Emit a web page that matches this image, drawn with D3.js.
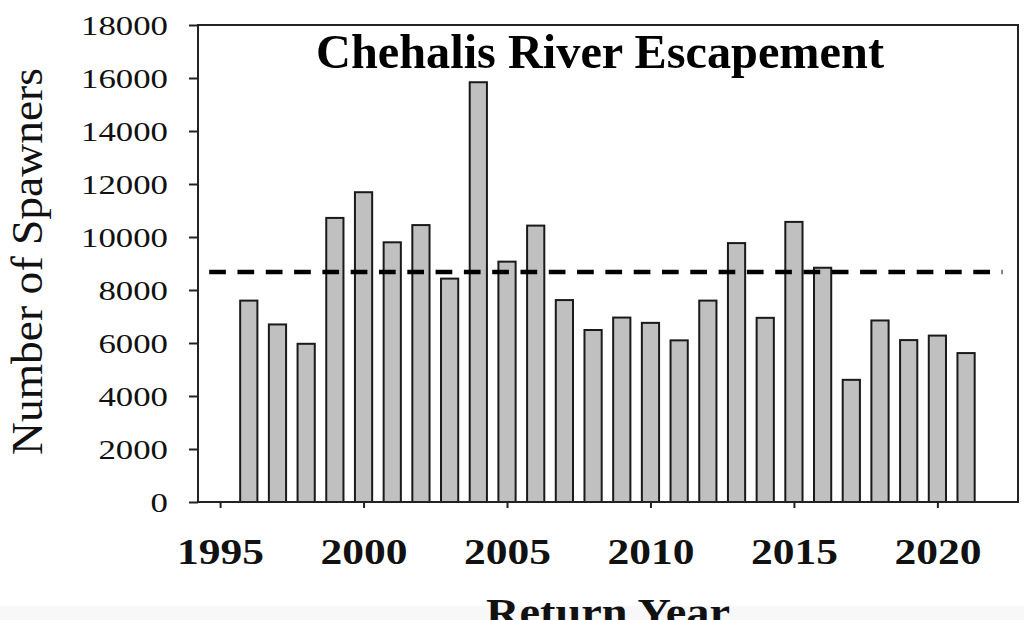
<!DOCTYPE html>
<html><head><meta charset="utf-8">
<script src="https://cdn.jsdelivr.net/npm/d3@7/dist/d3.min.js"></script>
<style>html,body{margin:0;padding:0;background:#fff;}svg{display:block;}</style>
</head><body>
<svg id="chart" width="1024" height="620"></svg>
<script>
const years = [1996,1997,1998,1999,2000,2001,2002,2003,2004,2005,2006,2007,2008,2009,2010,2011,2012,2013,2014,2015,2016,2017,2018,2019,2020,2021];
const spawners = [7600,6700,5970,10720,11690,9800,10450,8430,15840,9070,10430,7620,6490,6960,6760,6100,7600,9770,6950,10570,8840,4610,6850,6110,6280,5620];
const meanSpawners = 8680;
const meanSpan = [1994.62, 2022.27];
const xDomain = [1994.23, 2022.81];
const yDomain = [0, 18000];
const xTicks = [1995,2000,2005,2010,2015,2020];
const yTicks = [0,2000,4000,6000,8000,10000,12000,14000,16000,18000];
const title = "Chehalis River Escapement";
const xLabel = "Return Year";
const yLabel = "Number of Spawners";

const svg = d3.select("#chart");
const L = 198, R = 1018, T = 25, B = 502;
const x = d3.scaleLinear().domain(xDomain).range([L, R]);
const y = d3.scaleLinear().domain(yDomain).range([B, T]);
const serif = "'Liberation Serif','Times New Roman',Times,serif";

svg.append("rect").attr("x",0).attr("y",606).attr("width",1024).attr("height",14).attr("fill","#f8f8f8");

// bars
const bw = x(xDomain[0] + 0.6) - x(xDomain[0]);
svg.append("g").selectAll("rect").data(years).join("rect")
  .attr("x", (d) => x(d) - bw/2)
  .attr("y", (d,i) => y(spawners[i]))
  .attr("width", bw)
  .attr("height", (d,i) => y(0) - y(spawners[i]))
  .attr("fill", "#c0c0c0").attr("stroke", "#1a1a1a").attr("stroke-width", 2);

// mean line
svg.append("line")
  .attr("x1", x(meanSpan[0])).attr("x2", x(meanSpan[1]))
  .attr("y1", y(meanSpawners)).attr("y2", y(meanSpawners))
  .attr("stroke", "#000").attr("stroke-width", 4.3).attr("stroke-dasharray", "16.7 11.6");

// frame
svg.append("rect").attr("x", L).attr("y", T).attr("width", R-L).attr("height", B-T)
  .attr("fill","none").attr("stroke","#222").attr("stroke-width",2);

// y axis
const yAx = svg.append("g").attr("transform", `translate(${L},0)`)
  .call(d3.axisLeft(y).tickValues(yTicks).tickSize(9).tickPadding(0).tickFormat(d3.format("d")));
yAx.select(".domain").remove();
yAx.selectAll(".tick line").attr("stroke","#222").attr("stroke-width",2);
yAx.selectAll(".tick text").remove();
yAx.selectAll(".tick").append("text")
  .attr("x", -30).attr("y", 9.2).attr("text-anchor","end")
  .attr("font-family", serif).attr("font-size", 27).attr("fill","#111")
  .attr("textLength", d => String(d).length * 17.4).attr("lengthAdjust","spacingAndGlyphs")
  .text(d => String(d));

// x axis
const xAx = svg.append("g").attr("transform", `translate(0,${B})`)
  .call(d3.axisBottom(x).tickValues(xTicks).tickSize(6).tickFormat(d3.format("d")));
xAx.select(".domain").remove();
xAx.selectAll(".tick line").attr("stroke","#222").attr("stroke-width",2);
xAx.selectAll(".tick text").remove();
xAx.selectAll(".tick").append("text")
  .attr("x", 0).attr("y", 62).attr("text-anchor","middle")
  .attr("font-family", serif).attr("font-weight","bold").attr("font-size", 36.5).attr("fill","#111")
  .attr("textLength", 87).attr("lengthAdjust","spacingAndGlyphs")
  .text(d => String(d));

// title
svg.append("text").attr("x", 600).attr("y", 68).attr("text-anchor","middle")
  .attr("font-family", serif).attr("font-weight","bold").attr("font-size", 48).attr("fill","#000")
  .attr("textLength", 568).attr("lengthAdjust","spacingAndGlyphs")
  .text(title);

// x label
svg.append("text").attr("x", 608).attr("y", 626).attr("text-anchor","middle")
  .attr("font-family", serif).attr("font-weight","bold").attr("font-size", 40).attr("fill","#111")
  .attr("textLength", 244).attr("lengthAdjust","spacingAndGlyphs")
  .text(xLabel);

// y label
svg.append("text").attr("transform", "translate(42,261.5) rotate(-90)").attr("text-anchor","middle")
  .attr("font-family", serif).attr("font-size", 45).attr("fill","#111")
  .attr("textLength", 387).attr("lengthAdjust","spacingAndGlyphs")
  .text(yLabel);
</script>
</body></html>
